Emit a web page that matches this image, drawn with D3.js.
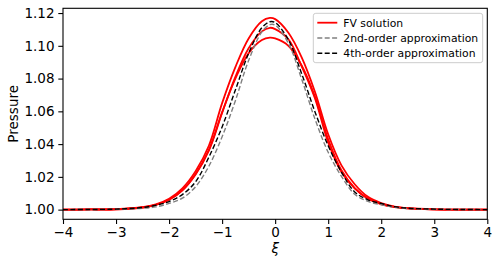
<!DOCTYPE html>
<html>
<head>
<meta charset="utf-8">
<script src="https://cdn.jsdelivr.net/npm/d3@7"></script>
<style>
  html, body { margin: 0; padding: 0; background: #fff; }
  svg { display: block; font-family: "DejaVu Sans", sans-serif; }
</style>
</head>
<body>
<svg id="chart" width="499" height="266"></svg>
<script>
// Sample positions along xi, shared by every curve
const xi = [-4, -3.5, -3, -2.5, -2.25, -2, -1.75, -1.5, -1.25, -1, -0.75, -0.5, -0.25, -0.1,
  0, 0.25, 0.5, 0.75, 1, 1.25, 1.5, 1.75, 2, 2.25, 2.5, 3, 3.5, 4];

// FV solution runs
const fvA = [1.0000, 1.0001, 1.0003, 1.0015, 1.0032, 1.0066, 1.0130, 1.0235, 1.0390, 1.0650, 1.0870, 1.1045, 1.1150, 1.1170,
  1.1163, 1.1080, 1.0930, 1.0720, 1.0460, 1.0270, 1.0155, 1.0078, 1.0040, 1.0019, 1.0009, 1.0002, 1.0000, 1.0000];
const fvB = [1.0000, 1.0001, 1.0002, 1.0013, 1.0029, 1.0060, 1.0118, 1.0215, 1.0360, 1.0590, 1.0810, 1.0985, 1.1088, 1.1110,
  1.1102, 1.1040, 1.0875, 1.0680, 1.0410, 1.0230, 1.0130, 1.0066, 1.0033, 1.0016, 1.0008, 1.0002, 1.0000, 1.0000];
const fvC = [1.0000, 1.0001, 1.0002, 1.0013, 1.0029, 1.0060, 1.0118, 1.0218, 1.0365, 1.0595, 1.0800, 1.0955, 1.1035, 1.1050,
  1.1045, 1.1000, 1.0880, 1.0690, 1.0430, 1.0240, 1.0132, 1.0068, 1.0034, 1.0017, 1.0008, 1.0002, 1.0000, 1.0000];

// Asymptotic approximations
const second = [1.0000, 1.0001, 1.0002, 1.0008, 1.0017, 1.0038, 1.0070, 1.0140, 1.0265, 1.0445, 1.0665, 1.0911, 1.1085, 1.1129,
  1.1126, 1.1015, 1.0797, 1.0554, 1.0350, 1.0203, 1.0094, 1.0050, 1.0030, 1.0014, 1.0007, 1.0002, 1.0001, 1.0000];
const fourth = [1.0000, 1.0001, 1.0003, 1.0013, 1.0027, 1.0049, 1.0092, 1.0170, 1.0320, 1.0505, 1.0730, 1.0954, 1.1111, 1.1147,
  1.1142, 1.1037, 1.0830, 1.0598, 1.0390, 1.0229, 1.0108, 1.0060, 1.0038, 1.0018, 1.0009, 1.0003, 1.0001, 1.0000];

const xTicks = [-4, -3, -2, -1, 0, 1, 2, 3, 4];
const yTicks = [1.00, 1.02, 1.04, 1.06, 1.08, 1.10, 1.12];
const xDomain = [-4, 4];
const yDomain = [0.9941, 1.1229];

const series = [
  { label: 'FV solution', values: fvA, color: '#ff0000', dash: null, legend: true },
  { label: 'FV solution', values: fvB, color: '#ff0000', dash: null, legend: false },
  { label: 'FV solution', values: fvC, color: '#ff0000', dash: null, legend: false },
  { label: '2nd-order approximation', values: second, color: '#808080', dash: '5,2.4', legend: true },
  { label: '4th-order approximation', values: fourth, color: '#000000', dash: '5,2.4', legend: true },
];

const W = 499, H = 266;
const margin = { top: 8.3, right: 11.7, bottom: 46.7, left: 63 };
const FONT = 13.5;

const svg = d3.select('#chart');
const x = d3.scaleLinear().domain(xDomain).range([margin.left, W - margin.right]);
const y = d3.scaleLinear().domain(yDomain).range([H - margin.bottom, margin.top]);

// Clip so lines don't spill over the frame
svg.append('defs').append('clipPath').attr('id', 'plot-clip')
  .append('rect')
  .attr('x', margin.left).attr('y', margin.top)
  .attr('width', W - margin.left - margin.right)
  .attr('height', H - margin.top - margin.bottom);

const line = d3.line()
  .x(d => x(d[0]))
  .y(d => y(d[1]))
  .curve(d3.curveCatmullRom.alpha(0.5));

const plot = svg.append('g').attr('clip-path', 'url(#plot-clip)');
series.forEach(s => {
  plot.append('path')
    .datum(xi.map((v, i) => [v, s.values[i]]))
    .attr('fill', 'none')
    .attr('stroke', s.color)
    .attr('stroke-width', s.dash ? 1.4 : 1.8)
    .attr('stroke-dasharray', s.dash)
    .attr('d', line);
});

// Axes
const fmtX = d => (d < 0 ? '\u2212' + Math.abs(d) : String(d));
const xAxis = svg.append('g')
  .attr('transform', `translate(0,${H - margin.bottom})`)
  .call(d3.axisBottom(x).tickValues(xTicks).tickFormat(fmtX).tickSize(4.7).tickPadding(3.5));
const yAxis = svg.append('g')
  .attr('transform', `translate(${margin.left},0)`)
  .call(d3.axisLeft(y).tickValues(yTicks).tickFormat(d3.format('.2f')).tickSize(4.7).tickPadding(3.8));

[xAxis, yAxis].forEach(g => {
  g.select('.domain').remove();
  g.selectAll('line').attr('stroke', '#000').attr('stroke-width', 1.1);
  g.selectAll('text').attr('font-size', FONT).attr('font-family', '"DejaVu Sans", sans-serif').attr('fill', '#000');
});

// Frame
svg.append('rect')
  .attr('x', margin.left).attr('y', margin.top)
  .attr('width', W - margin.left - margin.right)
  .attr('height', H - margin.top - margin.bottom)
  .attr('fill', 'none').attr('stroke', '#000').attr('stroke-width', 1.1);

// Axis labels
svg.append('text')
  .attr('x', x(0)).attr('y', 253)
  .attr('text-anchor', 'middle')
  .attr('font-size', FONT).attr('font-style', 'italic')
  .text('\u03BE');

svg.append('text')
  .attr('transform', `translate(18.3,${(margin.top + H - margin.bottom) / 2}) rotate(-90)`)
  .attr('text-anchor', 'middle')
  .attr('font-size', FONT)
  .text('Pressure');

// Legend
const legendItems = series.filter(s => s.legend);
const lg = svg.append('g').attr('transform', 'translate(313.3,13.3)');
lg.append('rect')
  .attr('width', 169.4).attr('height', 49.4)
  .attr('rx', 2.5).attr('ry', 2.5)
  .attr('fill', '#fff').attr('fill-opacity', 0.8)
  .attr('stroke', '#cccccc').attr('stroke-width', 1);
legendItems.forEach((s, i) => {
  const cy = 9.4 + i * 15.3;
  lg.append('line')
    .attr('x1', 4).attr('x2', 24).attr('y1', cy).attr('y2', cy)
    .attr('stroke', s.color)
    .attr('stroke-width', s.dash ? 1.4 : 1.8)
    .attr('stroke-dasharray', s.dash);
  lg.append('text')
    .attr('x', 30).attr('y', cy).attr('dy', '0.36em')
    .attr('font-size', 10.8)
    .text(s.label);
});
</script>
</body>
</html>
